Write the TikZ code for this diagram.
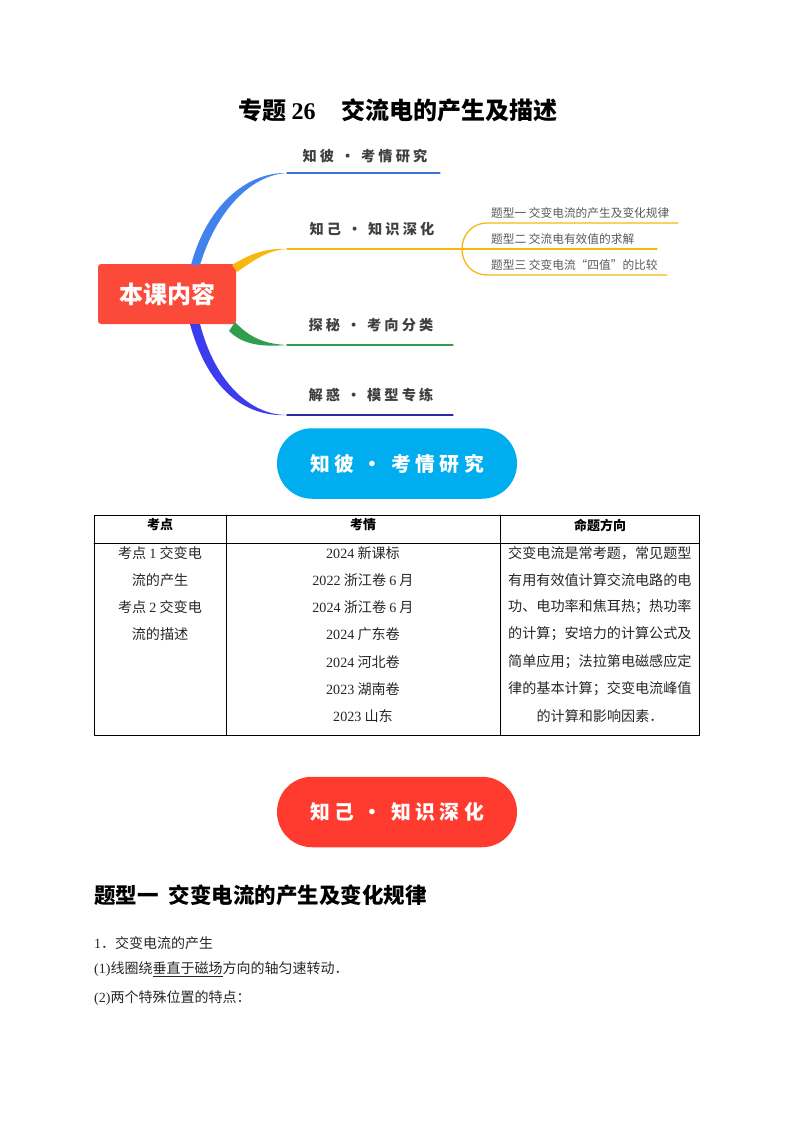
\documentclass[tikz,border=0pt]{standalone}
\usepackage{fontspec}
\setmainfont{Liberation Serif}
\newfontfamily\cjk{Noto Sans CJK SC}
\newfontfamily\cjkhand[LetterSpace=22]{Noto Sans CJK SC}
\newcommand{\lat}[1]{{\rmfamily #1}}
\newcommand{\fs}[1]{\fontsize{#1}{#1}\selectfont}
\definecolor{rootred}{HTML}{FB4A3A}
\definecolor{pillblue}{HTML}{00AEEF}
\definecolor{pillred}{HTML}{FF3B30}
\definecolor{brblue}{HTML}{4282EC}
\definecolor{brgold}{HTML}{F6B80E}
\definecolor{brgreen}{HTML}{2F9E4F}
\definecolor{brindigo}{HTML}{3C3CEE}
\tikzset{
	rootbox/.style={fill=rootred,rounded corners=3,minimum width=138,minimum height=60,text=white,font=\cjk\bfseries\fs{24},inner sep=0},
	pill/.style={rounded corners=35,minimum width=240,minimum height=70.5,text=white,font=\cjkhand\bfseries\fs{19.8},inner sep=0},
	hand/.style={text=black!75,font=\cjkhand\bfseries\fs{14.2},inner sep=0},
	small/.style={text=black!65,font=\cjk\fs{11.7},inner sep=0,anchor=west},
	cell/.style={font=\cjk\fs{14.1},inner sep=0,text=black!85},
	head/.style={font=\cjk\bfseries\fs{13},inner sep=0},
	para/.style={font=\cjk\fs{14},inner sep=0,anchor=west,text=black!85}
}
\begin{document}
\begin{tikzpicture}[line cap=round,line join=round,x=1pt,y=-1pt]
	\useasboundingbox (0,0) rectangle (794,1123);
	\node[inner sep=0,anchor=west,font=\cjk\bfseries\fs{24}] (title) at (238,110) {专题 \lat{26}\hspace{26pt}交流电的产生及描述};

	% mind map
	\node[rootbox] (root) at (167,294) {本课内容};
	\coordinate (b1) at (287,173);
	\coordinate (b1e) at (440,173);
	\coordinate (b2) at (287,249);
	\coordinate (b2e) at (462,249);
	\coordinate (b3) at (287,345);
	\coordinate (b3e) at (453,345);
	\coordinate (b4) at (287,415);
	\coordinate (b4e) at (453,415);
	\fill[brblue] (191,265) .. controls (206,208) and (245,172) .. (b1) -- (b1) .. controls (250,175) and (216,212) .. (200,265) -- cycle;
	\fill[brgold] (232,265) .. controls (250,254) and (265,248) .. (b2) -- (b2) .. controls (268,250) and (254,260) .. (237,272) -- cycle;
	\fill[brgreen] (235,322) .. controls (250,338) and (265,344) .. (b3) -- (b3) .. controls (262,347) and (243,345) .. (229,331) -- cycle;
	\fill[brindigo] (200,324) .. controls (215,382) and (250,415) .. (b4) -- (b4) .. controls (245,417) and (208,390) .. (190,324) -- cycle;
	\draw[brblue!90!black,line width=1.1] (b1) -- (b1e);
	\draw[brgold,line width=1.1] (b2) -- (b2e);
	\draw[brgreen,line width=1.1] (b3) -- (b3e);
	\draw[brindigo!70!black,line width=1.2] (b4) -- (b4e);
	\node[hand] (k1) at (365,156) {知彼 · 考情研究};
	\node[hand] (k2) at (372,229) {知己 · 知识深化};
	\node[hand] (k3) at (371,325) {探秘 · 考向分类};
	\node[hand] (k4) at (371,395) {解惑 · 模型专练};

	% sub branches
	\coordinate (s1) at (487,223);
	\coordinate (s1e) at (678,223);
	\coordinate (s2e) at (657,249);
	\coordinate (s3) at (487,275);
	\coordinate (s3e) at (667,275);
	\draw[brgold,line width=1.3] (s1e) -- (s1) .. controls (472,223) and (462,235) .. (b2e) .. controls (462,263) and (472,275) .. (s3) -- (s3e);
	\draw[brgold,line width=1.3] (b2e) -- (s2e);
	\node[small] (t1) at (491,213) {题型一 交变电流的产生及变化规律};
	\node[small] (t2) at (491,239) {题型二 交流电有效值的求解};
	\node[small] (t3) at (491,265) {题型三 交变电流“四值”的比较};

	\node[pill,fill=pillblue] (pk) at (397,463.5) {知彼 · 考情研究};
	\node[pill,fill=pillred] (pz) at (397,812) {知己 · 知识深化};

	% table
	\draw[line width=.8] (94,515) rectangle (699,735);
	\draw[line width=.8] (94,543) -- (699,543);
	\foreach \x in {226,500}
	\draw[line width=.8] (\x,515) -- (\x,735);
	\node[head] (h1) at (160,525) {考点};
	\node[head] (h2) at (363,525) {考情};
	\node[head] (h3) at (600,525) {命题方向};
	\foreach \n/\y/\s in {1/553/考点 \lat{1} 交变电,2/580/流的产生,3/607/考点 \lat{2} 交变电,4/634/流的描述}
	\node[cell] (l\n) at (160,\y) {\s};
	\foreach \n/\y/\s in {1/553/\lat{2024} 新课标,2/580/\lat{2022} 浙江卷 \lat{6} 月,3/607/\lat{2024} 浙江卷 \lat{6} 月,4/634/\lat{2024} 广东卷,5/662/\lat{2024} 河北卷,6/689/\lat{2023} 湖南卷,7/716/\lat{2023} 山东}
	\node[cell] (m\n) at (363,\y) {\s};
	\foreach \n/\y/\s in {1/553/交变电流是常考题，常见题型,2/580/有用有效值计算交流电路的电,3/607/功、电功率和焦耳热；热功率,4/634/的计算；安培力的计算公式及,5/662/简单应用；法拉第电磁感应定,6/689/律的基本计算；交变电流峰值}
	\node[cell,anchor=west] (r\n) at (508,\y) {\s};
	\node[cell] (r7) at (600,716) {的计算和影响因素．};

	% text below
	\node[inner sep=0,anchor=west,font=\cjk\bfseries\fs{21.5}] (sec) at (94,895) {题型一\hspace{10pt}交变电流的产生及变化规律};
	\node[para] (p1) at (94,943) {\lat{1}．交变电流的产生};
	\node[para] (p2) at (94,969) {\lat{(1)}线圈绕\rlap{\rule[-3.5pt]{70pt}{.7pt}}垂直于磁场方向的轴匀速转动．};
	\node[para] (p3) at (94,998) {\lat{(2)}两个特殊位置的特点：};
\end{tikzpicture}
\end{document}
